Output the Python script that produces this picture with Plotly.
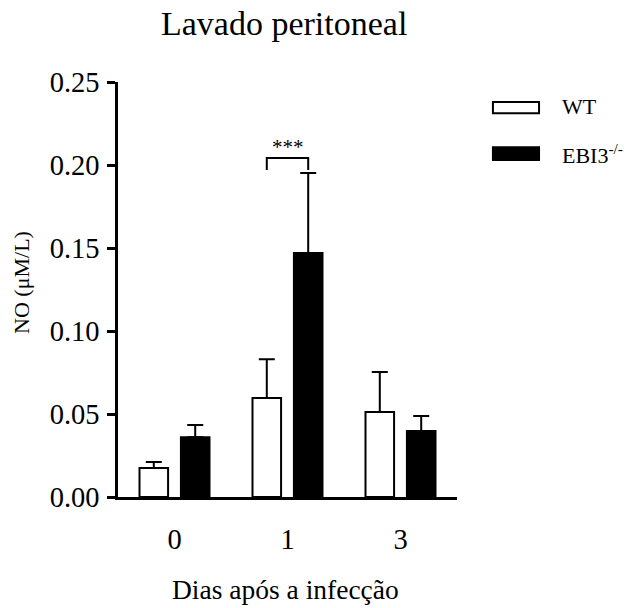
import plotly.graph_objects as go

# ---- data ----
days = ["0", "1", "3"]
wt_mean = [0.0175, 0.0596, 0.0512]
wt_sem = [0.0036, 0.0234, 0.0241]
ebi3_mean = [0.0360, 0.1470, 0.0398]
ebi3_sem = [0.0074, 0.0482, 0.0090]
series_names = ["WT", "EBI3<sup>-/-</sup>"]

FONT = "Liberation Serif"
x = list(range(len(days)))
bargap = 0.267
bargroupgap = 0.31

fig = go.Figure()
fig.add_trace(go.Bar(
    x=x, y=wt_mean, name=series_names[0],
    marker=dict(color="white", line=dict(color="black", width=2)),
    error_y=dict(type="data", symmetric=False, array=wt_sem,
                 arrayminus=[0] * len(wt_sem), color="black", thickness=2, width=8),
))
fig.add_trace(go.Bar(
    x=x, y=ebi3_mean, name=series_names[1],
    marker=dict(color="black", line=dict(color="black", width=2)),
    error_y=dict(type="data", symmetric=False, array=ebi3_sem,
                 arrayminus=[0] * len(ebi3_sem), color="black", thickness=2, width=8),
))

# significance bracket on day 1
i = 1
off = (1 - bargap) / 4
top = max(wt_mean[i] + wt_sem[i], ebi3_mean[i] + ebi3_sem[i])
yb = top + 0.0018
yt = top + 0.009
fig.add_shape(type="path", xref="x", yref="y",
              path=f"M {i-off},{yb} L {i-off},{yt} L {i+off},{yt} L {i+off},{yb}",
              line=dict(color="black", width=2))
fig.add_annotation(x=i, y=yt + 0.0065, xref="x", yref="y", text="***", showarrow=False,
                   font=dict(family=FONT, size=21, color="black"), yanchor="middle")

# custom legend
leg = [
    (0.925, 0.952, "white", 0.940, series_names[0]),
    (0.812, 0.843, "black", 0.827, series_names[1]),
]
for y0, y1, col, ty, name in leg:
    fig.add_shape(type="rect", xref="paper", yref="paper", x0=1.106, x1=1.242, y0=y0, y1=y1,
                  fillcolor=col, line=dict(color="black", width=2))
    fig.add_annotation(x=1.305, y=ty, xref="paper", yref="paper", text=name, showarrow=False,
                       xanchor="left", yanchor="middle",
                       font=dict(family=FONT, size=22, color="black"))

# titles
fig.add_annotation(x=0.49, y=1.14, xref="paper", yref="paper", text="Lavado peritoneal",
                   showarrow=False, xanchor="center", yanchor="middle",
                   font=dict(family=FONT, size=34, color="black"))
fig.add_annotation(x=0.493, y=-0.222, xref="paper", yref="paper", text="Dias após a infecção",
                   showarrow=False, xanchor="center", yanchor="middle",
                   font=dict(family=FONT, size=27.5, color="black"))
fig.add_annotation(x=-0.283, y=0.516, xref="paper", yref="paper", text="NO (μM/L)",
                   showarrow=False, xanchor="center", yanchor="middle", textangle=-90,
                   font=dict(family=FONT, size=22, color="black"))

fig.update_layout(
    width=633, height=608,
    margin=dict(l=118, r=176, t=82, b=111, pad=0),
    paper_bgcolor="white", plot_bgcolor="white",
    barmode="group", bargap=bargap, bargroupgap=bargroupgap,
    showlegend=False,
    font=dict(family=FONT, color="black"),
    xaxis=dict(range=[-0.5, 2.5], tickvals=x, ticktext=days, showline=True,
               linecolor="black", linewidth=2.5, ticks="", showgrid=False, zeroline=False,
               tickfont=dict(family=FONT, size=28.5, color="black"), ticklabelstandoff=15,
               fixedrange=True),
    yaxis=dict(range=[0, 0.25], dtick=0.05, tickformat=".2f", showline=True,
               linecolor="black", linewidth=2.5, ticks="outside", ticklen=8, tickwidth=2.5,
               tickcolor="black", showgrid=False, zeroline=False,
               tickfont=dict(family=FONT, size=28.5, color="black"), ticklabelstandoff=2,
               fixedrange=True),
)

fig.write_html("out.html")
